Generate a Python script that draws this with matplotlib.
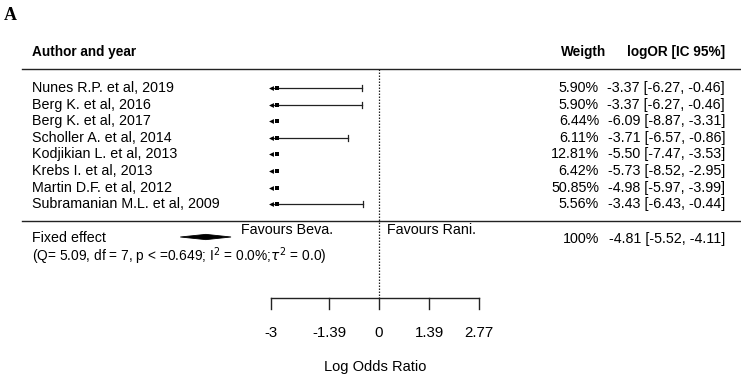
import matplotlib
matplotlib.use("Agg")
import matplotlib.pyplot as plt

plt.rcParams["font.family"] = ["Liberation Sans", "DejaVu Sans"]

studies = [
    "Nunes R.P. et al, 2019",
    "Berg K. et al, 2016",
    "Berg K. et al, 2017",
    "Scholler A. et al, 2014",
    "Kodjikian L. et al, 2013",
    "Krebs I. et al, 2013",
    "Martin D.F. et al, 2012",
    "Subramanian M.L. et al, 2009",
]
weights = ["5.90%", "5.90%", "6.44%", "6.11%", "12.81%", "6.42%", "50.85%", "5.56%"]
est = [-3.37, -3.37, -6.09, -3.71, -5.50, -5.73, -4.98, -3.43]
ci_lo = [-6.27, -6.27, -8.87, -6.57, -7.47, -8.52, -5.97, -6.43]
ci_hi = [-0.46, -0.46, -3.31, -0.86, -3.53, -2.95, -3.99, -0.44]

fixed_est, fixed_lo, fixed_hi = -4.81, -5.52, -4.11
fixed_weight = "100%"
fixed_stats = r"(Q= 5.09, df = 7, p < =0.649; I$^2$ = 0.0%;$\tau^2$ = 0.0)"

ticks = [-3, -1.39, 0, 1.39, 2.77]
tick_labels = ["-3", "-1.39", "0", "1.39", "2.77"]

W, H = 741, 380
PX_ZERO, PX_UNIT = 379, 36.0  # pixel position of 0 and pixels per logOR unit
ROW0, ROW_H = 88, 16.6

fig = plt.figure(figsize=(W / 100, H / 100), dpi=100)
ax = fig.add_axes([0, 0, 1, 1])
ax.set_xlim(-PX_ZERO / PX_UNIT, (W - PX_ZERO) / PX_UNIT)
ax.set_ylim((H - ROW0) / ROW_H, -ROW0 / ROW_H)
ax.axis("off")


def r(py):
    # pixel row -> data row
    return (py - ROW0) / ROW_H


def fx(px):
    return px / W


trans = ax.get_yaxis_transform()  # x in axes fraction, y in data
fs = 10.3
fs_head = 9.8
ink = "#222222"

fig.text(fx(4), 1 - 15 / H, "A", family="Liberation Serif", fontsize=13,
         fontweight="bold", va="center")

ax.text(fx(32), r(52), "Author and year", transform=trans, fontsize=fs_head,
        fontweight="bold", va="center")
ax.text(fx(606), r(52), "Weigth", transform=trans, fontsize=fs_head,
        fontweight="bold", va="center", ha="right")
ax.text(fx(725), r(52), "logOR [IC 95%]", transform=trans, fontsize=fs_head,
        fontweight="bold", va="center", ha="right")

ax.plot([fx(22), 1], [r(69), r(69)], transform=trans, color=ink, lw=1)
ax.plot([fx(22), 1], [r(221), r(221)], transform=trans, color=ink, lw=1)

xmin = ticks[0]
for i, name in enumerate(studies):
    ax.text(fx(32), i, name, transform=trans, fontsize=fs, va="center")
    ax.text(fx(599), i, weights[i], transform=trans, fontsize=fs,
            va="center", ha="right")
    ax.text(fx(725), i, f"{est[i]:.2f} [{ci_lo[i]:.2f}, {ci_hi[i]:.2f}]",
            transform=trans, fontsize=fs, va="center", ha="right")
    lo = max(ci_lo[i], xmin)
    hi = max(ci_hi[i], xmin)
    ax.plot([lo, hi], [i, i], color=ink, lw=0.9)
    if hi > xmin + 0.3:
        ax.plot([hi, hi], [i - 0.18, i + 0.18], color=ink, lw=0.9)
    if ci_lo[i] < xmin:
        ax.plot([xmin], [i], marker="<", ms=3.5, color="black", mew=0)
    ax.plot([max(est[i], xmin) + 0.18], [i], marker="s", ms=3.2,
            color="black", mew=0)

# summary diamond
ys = r(237)
ax.fill([fixed_lo, fixed_est, fixed_hi, fixed_est],
        [ys, ys - 0.16, ys, ys + 0.16], color="black", lw=0.6)
ax.text(fx(32), r(238), "Fixed effect", transform=trans, fontsize=fs,
        va="center")
ax.text(fx(32), r(256), fixed_stats, transform=trans, fontsize=9.9,
        va="center")
ax.text(fx(241), r(230), "Favours Beva.", transform=trans, fontsize=fs,
        va="center")
ax.text(fx(387), r(230), "Favours Rani.", transform=trans, fontsize=fs,
        va="center")
ax.text(fx(599), r(239), fixed_weight, transform=trans, fontsize=fs,
        va="center", ha="right")
ax.text(fx(725), r(239), f"{fixed_est:.2f} [{fixed_lo:.2f}, {fixed_hi:.2f}]",
        transform=trans, fontsize=fs, va="center", ha="right")

# null line
ax.plot([0, 0], [r(69), r(298)], color=ink, lw=0.9, ls=(0, (1.2, 1.2)))

# x axis
ya = r(298)
ax.plot([ticks[0], ticks[-1]], [ya, ya], color=ink, lw=1)
for t, lab in zip(ticks, tick_labels):
    ax.plot([t, t], [ya, r(309)], color=ink, lw=1)
    ax.text(t, r(333), lab, fontsize=10.8, ha="center", va="center")
ax.text(-0.1, r(367), "Log Odds Ratio", fontsize=10.5, ha="center",
        va="center")

fig.savefig("out.png", dpi=100)
